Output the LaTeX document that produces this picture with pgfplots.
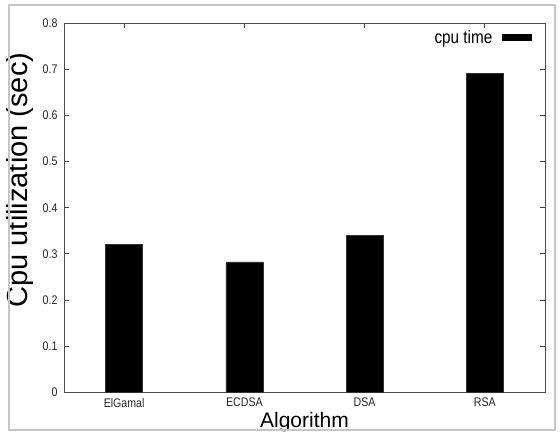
\documentclass[border=0pt]{standalone}
\usepackage{fontspec}
\setmainfont{Liberation Sans}
\newfontfamily\narrowfont{Liberation Sans}[FakeStretch=0.85]
\usepackage{pgfplots}
\pgfplotsset{compat=1.18}
\begin{document}
\begin{tikzpicture}[x=1pt,y=1pt]
\useasboundingbox (-64,-39.5) rectangle (496,392.5);
\begin{axis}[
  at={(0,0)}, anchor=south west,
  scale only axis,
  width=481pt, height=369.5pt,
  ybar, bar width=37pt,
  xmin=-0.5, xmax=3.5,
  ymin=0, ymax=0.8,
  xtick={0,1,2,3},
  xticklabels={ElGamal,ECDSA,DSA,RSA},
  ytick={0,0.1,0.2,0.3,0.4,0.5,0.6,0.7,0.8},
  /pgf/number format/.cd, fixed, precision=1, assume math mode=true,
  /pgfplots/.cd,
  tick align=inside,
  major tick length=5pt,
  axis line style={draw=black!70, line width=0.9pt},
  every tick/.style={black!75, line width=0.9pt},
  tick label style={font=\narrowfont\fontsize{12.5}{13}\selectfont, text=black!85},
  yticklabel style={xshift=-3pt},
  xticklabel style={yshift=-2pt},
  xlabel={Algorithm},
  ylabel={Cpu utilization (sec)},
  xlabel style={font=\fontsize{21}{22}\selectfont, at={(axis description cs:0.5,-0.096)}, anchor=base},
  ylabel style={font=\fontsize{29}{30}\selectfont, at={(axis description cs:-0.0915,0.575)}, anchor=center, rotate=0},
  legend style={draw=none, fill=none, at={(axis description cs:1,1)}, anchor=north east, xshift=-10pt, yshift=-3pt, font=\narrowfont\fontsize{18}{19}\selectfont, legend cell align=right},
  legend plot pos=right,
  legend image code/.code={\path (0pt,0pt); \fill[black] (8pt,-3pt) rectangle (37pt,3pt);},
]
\addplot[fill=black, draw=black!80] coordinates {(0,0.321) (1,0.283) (2,0.341) (3,0.691)};
\addlegendentry{cpu time}
\end{axis}
\draw[gray!45, line width=2.5pt] (-55,-37.5) rectangle (491,387.5);
\end{tikzpicture}
\end{document}
